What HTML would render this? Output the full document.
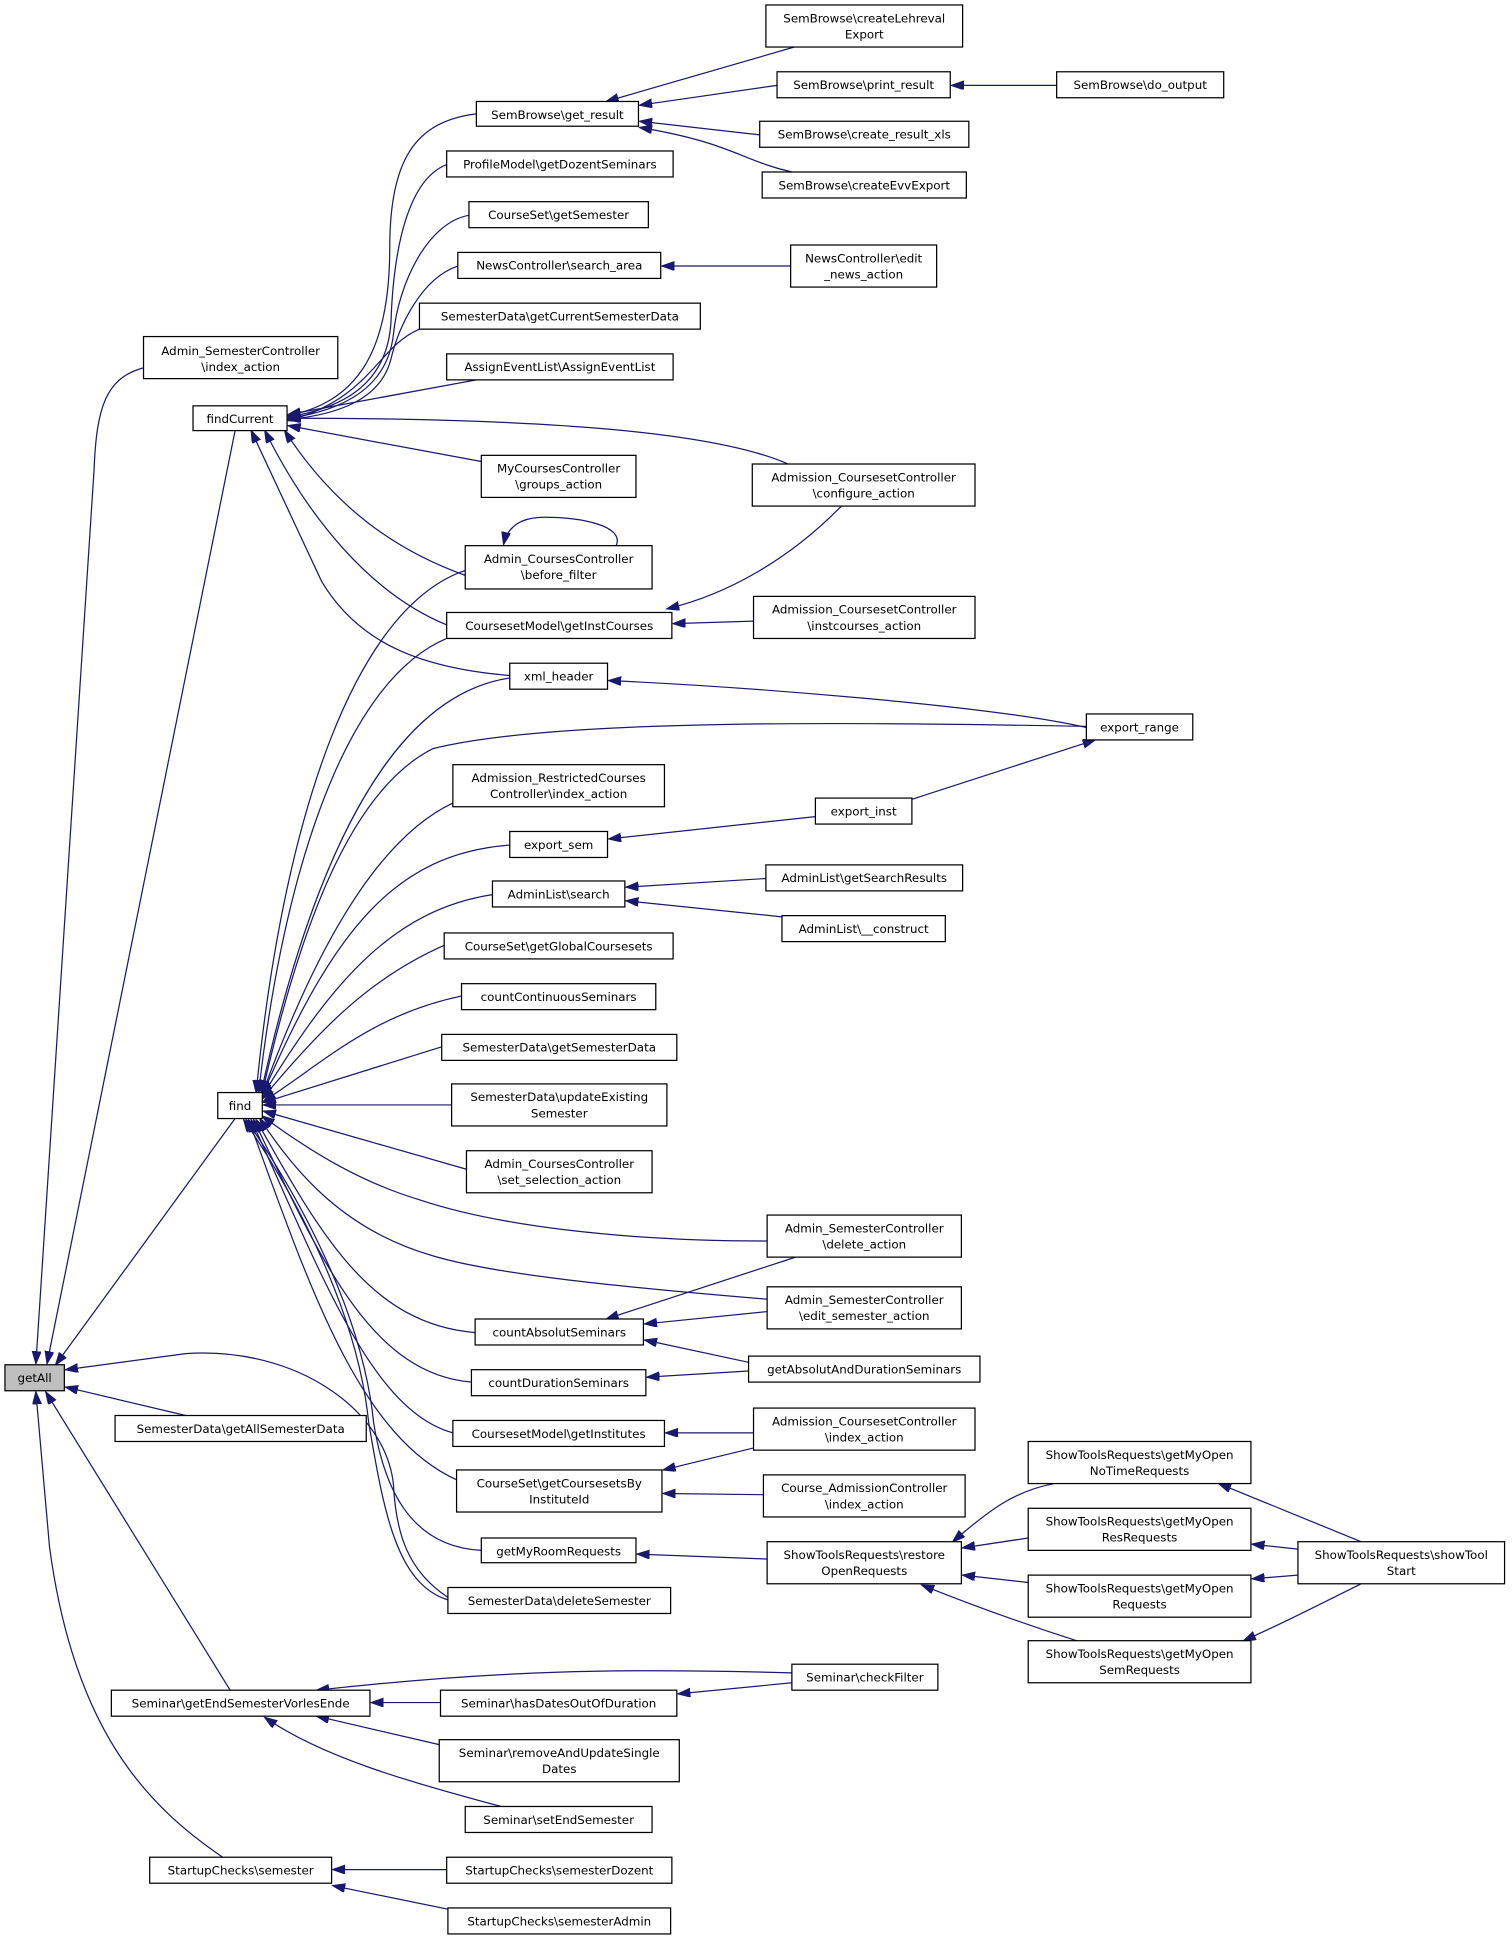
<!DOCTYPE html>
<html><head><meta charset="utf-8"><style>
html,body{margin:0;padding:0;background:#fff;}
svg{display:block;}
text{font-family:"DejaVu Sans","Liberation Sans",sans-serif;font-size:9.6px;fill:#000;text-anchor:middle;}
rect{fill:#fff;stroke:#000;stroke-width:1;}
path{fill:none;stroke:#191970;stroke-width:1;marker-end:url(#a);}
</style></head><body>
<svg width="1512" height="1941" viewBox="0 0 1222 1568.7" xmlns="http://www.w3.org/2000/svg">
<defs><marker id="a" markerUnits="userSpaceOnUse" markerWidth="11" markerHeight="8" refX="10" refY="3.5" orient="auto"><path d="M0,0 L10,3.5 L0,7 z" style="fill:#191970;stroke:#191970;marker-end:none"/></marker></defs>

<!-- edges into getAll -->
<path d="M117,297 C85,305 78,330 76,380 L29,1102"/>
<path d="M190,348 L38,1102"/>
<path d="M190,904 L45,1103"/>
<path d="M362,1291 C330,1270 320,1240 318,1200 C312,1140 240,1088 150,1094 L53,1107"/>
<path d="M150,1144 L53,1121"/>
<path d="M186,1366 L37,1125"/>
<path d="M180,1501 C120,1460 60,1400 40,1250 L29,1125"/>

<!-- edges into findCurrent -->
<path d="M385,92 C335,98 315,130 315,200 C315,290 285,325 233,336"/>
<path d="M361,133 C330,145 318,200 316,260 C313,312 275,330 233,337"/>
<path d="M379,174 C345,180 322,230 318,270 C313,315 275,332 233,338"/>
<path d="M370,215 C340,225 322,265 316,290 C308,322 275,335 233,339"/>
<path d="M339,266 C305,280 300,322 233,340"/>
<path d="M385,307 L233,335"/>
<path d="M637,375 C580,350 450,338 233,338"/>
<path d="M389,373 L233,344"/>
<path d="M376,465 C320,445 270,410 230,348"/>
<path d="M361,505 C300,480 250,420 214,348"/>
<path d="M412,546 C340,540 290,520 260,470 L203,348"/>
<!-- self loop -->
<path d="M498,441 C505,425 470,418 440,418 C420,418 410,426 407,440"/>

<!-- edges into find -->
<path d="M376,461 C290,490 230,650 207,883"/>
<path d="M361,516 C280,550 230,700 209,883"/>
<path d="M412,548 C330,560 260,660 211,883"/>
<path d="M878,587 C700,584 450,580 350,605 C280,640 240,760 212,883"/>
<path d="M366,649 C300,680 250,780 212,884"/>
<path d="M412,683 C320,690 270,750 212,885"/>
<path d="M398,723 C320,735 270,790 212,886"/>
<path d="M359,764 C300,790 260,830 212,888"/>
<path d="M373,805 C300,820 260,860 213,890"/>
<path d="M357,846 L213,891"/>
<path d="M365,893 L213,893"/>
<path d="M377,945 L213,898"/>
<path d="M620,1003 C500,1003 400,990 340,970 C290,955 250,930 212,902"/>
<path d="M620,1050 C500,1040 400,1030 350,1015 C280,995 240,950 210,904"/>
<path d="M384,1077 C300,1070 260,1000 207,905"/>
<path d="M381,1117 C300,1110 260,1020 205,905"/>
<path d="M366,1158 C300,1140 260,1030 203,905"/>
<path d="M369,1196 C290,1160 250,1040 201,905"/>
<path d="M389,1253 C330,1250 310,1200 302,1150 C292,1050 230,950 199,905"/>
<path d="M362,1293 C320,1280 310,1220 298,1150 C288,1050 228,950 197,905"/>

<!-- right side edges -->
<path d="M642,38 L490,82"/>
<path d="M628,69 L517,85"/>
<path d="M614,109 L517,98"/>
<path d="M640,139 C600,130 590,115 517,103"/>
<path d="M854,69 L769,69"/>
<path d="M639,215 L535,215"/>
<path d="M680,409 C640,450 590,480 539,492"/>
<path d="M609,502 L544,504"/>
<path d="M878,588 C800,570 600,555 492,550"/>
<path d="M737,646 L885,598"/>
<path d="M659,660 L492,678"/>
<path d="M619,710 L506,717"/>
<path d="M632,741 L506,728"/>
<path d="M643,1016 L490,1066"/>
<path d="M620,1060 L521,1070"/>
<path d="M605,1101 L521,1083"/>
<path d="M605,1108 L523,1113"/>
<path d="M609,1158 L538,1158"/>
<path d="M610,1170 L536,1188"/>
<path d="M617,1208 L536,1207"/>
<path d="M620,1260 L515,1256"/>
<path d="M852,1199 C820,1205 800,1220 770,1246"/>
<path d="M831,1243 L778,1251"/>
<path d="M831,1279 L778,1273"/>
<path d="M870,1326 C820,1310 780,1295 745,1281"/>
<path d="M1100,1246 L985,1199"/>
<path d="M1049,1252 L1012,1248"/>
<path d="M1049,1273 L1012,1276"/>
<path d="M1100,1280 C1060,1300 1030,1315 1005,1326"/>
<path d="M640,1352 C500,1348 400,1350 256,1366"/>
<path d="M640,1360 L548,1369"/>
<path d="M356,1376 L300,1376"/>
<path d="M355,1410 L256,1387"/>
<path d="M405,1460 C330,1440 260,1420 214,1388"/>
<path d="M361,1511 L269,1511"/>
<path d="M362,1543 L269,1524"/>

<!-- nodes -->
<rect x="4" y="1103" width="48" height="21" style="fill:#bfbfbf"/><text x="28" y="1117">getAll</text>
<rect x="116" y="272" width="157" height="34"/><text x="194.5" y="287">Admin_SemesterController</text><text x="194.5" y="300">\index_action</text>
<rect x="156" y="328" width="76" height="20"/><text x="194" y="342">findCurrent</text>
<rect x="176" y="883" width="36" height="21"/><text x="194" y="897">find</text>
<rect x="93" y="1144" width="203" height="21"/><text x="194.5" y="1158">SemesterData\getAllSemesterData</text>
<rect x="90" y="1366" width="209" height="21"/><text x="194.5" y="1380">Seminar\getEndSemesterVorlesEnde</text>
<rect x="121" y="1501" width="147" height="21"/><text x="194.5" y="1515">StartupChecks\semester</text>

<rect x="385" y="82" width="131" height="20"/><text x="450.5" y="96">SemBrowse\get_result</text>
<rect x="361" y="122" width="183" height="21"/><text x="452.5" y="136">ProfileModel\getDozentSeminars</text>
<rect x="379" y="163" width="145" height="21"/><text x="451.5" y="177">CourseSet\getSemester</text>
<rect x="370" y="204" width="164" height="21"/><text x="452" y="218">NewsController\search_area</text>
<rect x="339" y="245" width="227" height="21"/><text x="452.5" y="259">SemesterData\getCurrentSemesterData</text>
<rect x="361" y="286" width="183" height="21"/><text x="452.5" y="300">AssignEventList\AssignEventList</text>
<rect x="389" y="368" width="125" height="34"/><text x="451.5" y="382">MyCoursesController</text><text x="451.5" y="395">\groups_action</text>
<rect x="376" y="441" width="151" height="35"/><text x="451.5" y="455">Admin_CoursesController</text><text x="451.5" y="468">\before_filter</text>
<rect x="361" y="495" width="182" height="21"/><text x="452" y="509">CoursesetModel\getInstCourses</text>
<rect x="412" y="536" width="79" height="21"/><text x="451.5" y="550">xml_header</text>
<rect x="366" y="618" width="171" height="34"/><text x="451.5" y="632">Admission_RestrictedCourses</text><text x="451.5" y="645">Controller\index_action</text>
<rect x="412" y="672" width="79" height="21"/><text x="451.5" y="686">export_sem</text>
<rect x="398" y="712" width="107" height="21"/><text x="451.5" y="726">AdminList\search</text>
<rect x="359" y="754" width="185" height="21"/><text x="451.5" y="768">CourseSet\getGlobalCoursesets</text>
<rect x="373" y="795" width="157" height="21"/><text x="451.5" y="809">countContinuousSeminars</text>
<rect x="357" y="836" width="190" height="21"/><text x="452" y="850">SemesterData\getSemesterData</text>
<rect x="365" y="876" width="174" height="34"/><text x="452" y="890">SemesterData\updateExisting</text><text x="452" y="903">Semester</text>
<rect x="377" y="930" width="150" height="34"/><text x="452" y="944">Admin_CoursesController</text><text x="452" y="957">\set_selection_action</text>
<rect x="384" y="1066" width="136" height="21"/><text x="452" y="1080">countAbsolutSeminars</text>
<rect x="381" y="1107" width="141" height="21"/><text x="451.5" y="1121">countDurationSeminars</text>
<rect x="366" y="1148" width="171" height="21"/><text x="451.5" y="1162">CoursesetModel\getInstitutes</text>
<rect x="369" y="1188" width="166" height="34"/><text x="452" y="1202">CourseSet\getCoursesetsBy</text><text x="452" y="1215">InstituteId</text>
<rect x="389" y="1243" width="125" height="20"/><text x="451.5" y="1257">getMyRoomRequests</text>
<rect x="362" y="1283" width="180" height="21"/><text x="452" y="1297">SemesterData\deleteSemester</text>
<rect x="356" y="1366" width="191" height="21"/><text x="451.5" y="1380">Seminar\hasDatesOutOfDuration</text>
<rect x="355" y="1406" width="194" height="34"/><text x="452" y="1420">Seminar\removeAndUpdateSingle</text><text x="452" y="1433">Dates</text>
<rect x="376" y="1460" width="151" height="21"/><text x="451.5" y="1474">Seminar\setEndSemester</text>
<rect x="361" y="1501" width="182" height="21"/><text x="452" y="1515">StartupChecks\semesterDozent</text>
<rect x="362" y="1542" width="180" height="21"/><text x="452" y="1556">StartupChecks\semesterAdmin</text>

<rect x="619" y="4" width="159" height="34"/><text x="698.5" y="18">SemBrowse\createLehreval</text><text x="698.5" y="31">Export</text>
<rect x="628" y="58" width="140" height="21"/><text x="698" y="72">SemBrowse\print_result</text>
<rect x="614" y="98" width="169" height="21"/><text x="698.5" y="112">SemBrowse\create_result_xls</text>
<rect x="616" y="139" width="165" height="21"/><text x="698.5" y="153">SemBrowse\createEvvExport</text>
<rect x="639" y="198" width="118" height="34"/><text x="698" y="212">NewsController\edit</text><text x="698" y="225">_news_action</text>
<rect x="608" y="375" width="180" height="34"/><text x="698" y="389">Admission_CoursesetController</text><text x="698" y="402">\configure_action</text>
<rect x="609" y="482" width="179" height="34"/><text x="698.5" y="496">Admission_CoursesetController</text><text x="698.5" y="509">\instcourses_action</text>
<rect x="659" y="645" width="78" height="21"/><text x="698" y="659">export_inst</text>
<rect x="619" y="699" width="159" height="21"/><text x="698.5" y="713">AdminList\getSearchResults</text>
<rect x="632" y="740" width="132" height="21"/><text x="698" y="754">AdminList\__construct</text>
<rect x="620" y="982" width="157" height="34"/><text x="698.5" y="996">Admin_SemesterController</text><text x="698.5" y="1009">\delete_action</text>
<rect x="620" y="1040" width="157" height="34"/><text x="698.5" y="1054">Admin_SemesterController</text><text x="698.5" y="1067">\edit_semester_action</text>
<rect x="605" y="1096" width="187" height="21"/><text x="698.5" y="1110">getAbsolutAndDurationSeminars</text>
<rect x="609" y="1138" width="179" height="34"/><text x="698.5" y="1152">Admission_CoursesetController</text><text x="698.5" y="1165">\index_action</text>
<rect x="617" y="1192" width="163" height="34"/><text x="698.5" y="1206">Course_AdmissionController</text><text x="698.5" y="1219">\index_action</text>
<rect x="620" y="1246" width="157" height="34"/><text x="698.5" y="1260">ShowToolsRequests\restore</text><text x="698.5" y="1273">OpenRequests</text>
<rect x="640" y="1345" width="118" height="21"/><text x="699" y="1359">Seminar\checkFilter</text>
<rect x="854" y="58" width="135" height="21"/><text x="921.5" y="72">SemBrowse\do_output</text>
<rect x="878" y="577" width="86" height="21"/><text x="921" y="591">export_range</text>
<rect x="831" y="1165" width="180" height="34"/><text x="921" y="1179">ShowToolsRequests\getMyOpen</text><text x="921" y="1192">NoTimeRequests</text>
<rect x="831" y="1219" width="180" height="34"/><text x="921" y="1233">ShowToolsRequests\getMyOpen</text><text x="921" y="1246">ResRequests</text>
<rect x="831" y="1273" width="180" height="34"/><text x="921" y="1287">ShowToolsRequests\getMyOpen</text><text x="921" y="1300">Requests</text>
<rect x="831" y="1326" width="180" height="34"/><text x="921" y="1340">ShowToolsRequests\getMyOpen</text><text x="921" y="1353">SemRequests</text>
<rect x="1049" y="1246" width="167" height="34"/><text x="1132.5" y="1260">ShowToolsRequests\showTool</text><text x="1132.5" y="1273">Start</text>
</svg>
</body></html>
